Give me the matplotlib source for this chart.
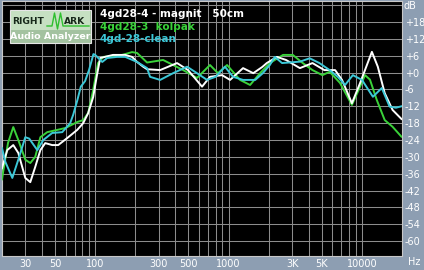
import matplotlib
matplotlib.use("Agg")
import matplotlib.pyplot as plt
from matplotlib.patches import Rectangle

# frequency response readings (Hz, dB)
magnit_f = [20, 21.9, 24.3, 26.5, 29.9, 32.6, 35.5, 38.8, 42.2, 47.6, 52.8, 61.7, 73.3,
            81.3, 88.6, 96.6, 103, 109, 136, 168, 189, 206, 229, 245, 307, 411, 497, 633,
            726, 894, 1027, 1285, 1533, 1790, 1936, 2308, 2700, 3430, 4261, 5230, 6300,
            7100, 8420, 9700, 11890, 13170, 14840, 17000, 19800]
magnit_db = [-34, -27.6, -25.8, -28.6, -37.5, -39, -33.6, -27.6, -25.1, -25.8, -25.8, -23.3, -20.4,
             -18, -14.4, -8.7, -1, 5.2, 6.3, 6.3, 5.6, 3.8, 2.1, 1.2, 0.9, 3.4, 0.9, -5,
             -1.5, -0.9, -2.6, 1.6, -0.2, 2, 3.4, 5.6, 4.5, 1.6, 3.4, 0.9, 0.9,
             -2.6, -10.9, -3.7, 7.4, 2.1, -7.3, -13.3, -16.5]

kolpak_f = [20, 20.5, 22.2, 24.3, 26.5, 29.9, 32.6, 35.5, 38.8, 43.7, 51.9, 60, 73.3,
            81.3, 88.6, 96.6, 105, 115, 136, 159, 189, 206, 245, 323, 457, 580, 726,
            833, 975, 1220, 1451, 1723, 2040, 2564, 3036, 3604, 4261, 5060, 5734, 6860,
            8420, 9330, 10560, 11500, 12950, 14840, 17000, 19800]
kolpak_db = [-38, -34.7, -25, -19.4, -24, -31, -32.2, -30, -23, -21.2, -20.4, -19.7, -17.6,
             -16.9, -14.4, -6.2, 3.4, 5.6, 5.9, 6.3, 7.3, 7, 3.6, 4.5, 0.9, -1.9, 2.7,
             -0.2, 2.7, -2.6, -4.4, -0.2, 3.4, 6.3, 6.3, 3.4, 0.9, -0.9, 0.3, -3.7,
             -11.5, -6.8, -0.9, -2.5, -9.8, -16.9, -19.3, -22.8]

clean_f = [20, 21.2, 23.9, 26.5, 29.9, 32, 36.8, 40.8, 47.6, 56.6, 64.9, 68.4, 73.3,
           78, 84, 90, 97, 100, 113, 123, 146, 168, 206, 245, 258, 307, 384, 489, 580,
           690, 800, 940, 1081, 1285, 1586, 1809, 2040, 2226, 2520, 3430, 4061, 4803,
           5734, 6600, 7480, 8560, 10020, 12100, 14100, 16150, 18000, 19800]
clean_db = [-26.9, -31.8, -37.5, -31, -23, -23.5, -27.6, -24, -21.5, -21.2, -18, -15, -10,
            -5, -3, 1, 6.6, 6.3, 3.8, 5.2, 5.6, 5.6, 3.8, 1.6, -1.5, -2.6, -0.2, 2.1, -0.2,
            -2.6, -1.5, 2.1, -1.5, -2.6, -2.6, -0.2, 2.7, 5.6, 3.4, 3.9, 5.1, 3.4,
            0.9, -1.5, -4.4, -0.9, -2.6, -8.6, -5.5, -12.1, -12.5, -12]

y_ticks = [18, 12, 6, 0, -6, -12, -18, -24, -30, -36, -42, -48, -54, -60]
y_labels = ["+18", "+12", "+6", "+0", "-6", "-12", "-18", "-24", "-30", "-36", "-42", "-48", "-54", "-60"]
x_ticks = [30, 50, 100, 300, 500, 1000, 3000, 5000, 10000]
x_labels = ["30", "50", "100", "300", "500", "1000", "3K", "5K", "10000"]

W, H = 424, 270
fig = plt.figure(figsize=(W / 100, H / 100), dpi=100, facecolor="#8d9eb2")
ax = fig.add_axes([2 / W, 14 / H, 400 / W, 255 / H])
ax.set_facecolor("black")

ax.set_xscale("log")
ax.set_xlim(20, 20000)
ax.set_ylim(-65.3, 25.5)

# grid
minor = [m * 10 ** d for d in range(1, 5) for m in range(1, 10)]
for f in minor:
    if 20 < f < 20000:
        ax.axvline(f, color="#8c8c8c", lw=0.75, zorder=1)
for d in range(-60, 25, 6):
    ax.axhline(d, color="#8c8c8c", lw=0.75, zorder=1)

ax.plot(kolpak_f, kolpak_db, color="#3ad23a", lw=1.4, zorder=3)
ax.plot(magnit_f, magnit_db, color="white", lw=1.4, zorder=4)
ax.plot(clean_f, clean_db, color="#3cc8d8", lw=1.4, zorder=5)

ax.yaxis.tick_right()
ax.set_yticks(y_ticks)
ax.set_yticklabels(y_labels)
ax.set_xticks(x_ticks)
ax.set_xticklabels(x_labels)
ax.minorticks_off()
ax.tick_params(length=0, colors="white", labelsize=7, pad=2)
for s in ax.spines.values():
    s.set_color("#c8c8c8")
    s.set_linewidth(0.8)

fig.text(404 / W, 1 - 6 / H, "dB", color="white", fontsize=7, va="center")
fig.text(408 / W, 1 - 262 / H, "Hz", color="white", fontsize=7, va="center")

# legend text
ax.text(0.245, 0.95, "4gd28-4 - magnit   50cm", transform=ax.transAxes, color="white",
        fontsize=7.5, fontweight="bold", va="center")
ax.text(0.245, 0.9, "4gd28-3  kolpak", transform=ax.transAxes, color="#3ad23a",
        fontsize=7.5, fontweight="bold", va="center")
ax.text(0.245, 0.85, "4gd-28-clean", transform=ax.transAxes, color="#3cc8d8",
        fontsize=7.5, fontweight="bold", va="center")

# RightMark logo
fig.patches.append(Rectangle((10 / W, 1 - 43 / H), 81 / W, 33 / H, transform=fig.transFigure,
                             facecolor="#a3c2a0", edgecolor="#e6e6e6", lw=0.8, zorder=10))
fig.patches.append(Rectangle((11 / W, 1 - 30 / H), 79 / W, 19 / H, transform=fig.transFigure,
                             facecolor="#c6e0c2", edgecolor="none", zorder=11))
fig.text(12 / W, 1 - 22 / H, "RIGHT", color="#17281a", fontsize=6.6, fontweight="bold",
         va="center", zorder=12)
fig.text(64 / W, 1 - 22 / H, "ARK", color="#17281a", fontsize=6.6, fontweight="bold",
         va="center", zorder=12)
fig.lines.append(plt.Line2D([47 / W, 52 / W, 54.5 / W, 57.5 / W, 60.5 / W, 63 / W, 89 / W],
                            [1 - 26 / H, 1 - 26 / H, 1 - 13 / H, 1 - 29 / H, 1 - 13 / H, 1 - 26 / H, 1 - 26 / H],
                            transform=fig.transFigure, color="#2fbf2f", lw=1.0, zorder=12))
fig.text(50.5 / W, 1 - 36.5 / H, "Audio Analyzer", color="white", fontsize=6.8, fontweight="bold",
         va="center", ha="center", zorder=12)

fig.savefig("out.png", dpi=100, facecolor=fig.get_facecolor())
